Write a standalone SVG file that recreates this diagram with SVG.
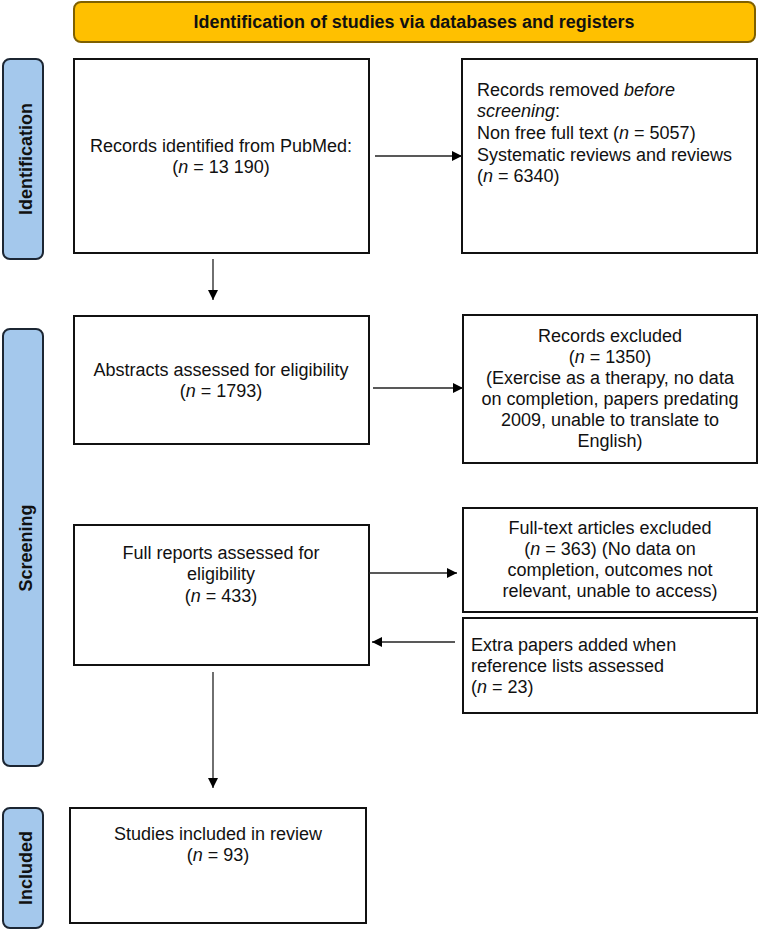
<svg xmlns="http://www.w3.org/2000/svg" width="760" height="929" viewBox="0 0 760 929">
<defs>
<marker id="ah" markerWidth="10" markerHeight="10" refX="10" refY="5" orient="auto" markerUnits="userSpaceOnUse">
<path d="M0,0 L10,5 L0,10 Z" fill="#000"/>
</marker>
<style>
.box{fill:#fff;stroke:#111;stroke-width:2}
.lab{fill:#A4C8EC;stroke:#1c2633;stroke-width:2}
.labt{font-family:"Liberation Sans",Arial,sans-serif;font-size:18px;font-weight:bold;fill:#111;text-anchor:middle}
.t{font-family:"Liberation Sans",Arial,sans-serif;font-size:18px;fill:#111}
.c{text-anchor:middle}
.conn{stroke:#222;stroke-width:1.3;fill:none}
</style>
</defs>
<rect width="760" height="929" fill="#fff"/>

<g id="banner">
<rect x="74" y="2" width="681" height="40" rx="7" fill="#FFC000" stroke="#7F6000" stroke-width="2"/>
<text x="414" y="28" class="labt" textLength="441" lengthAdjust="spacingAndGlyphs">Identification of studies via databases and registers</text>
</g>

<g id="label-identification">
<rect x="3" y="59" width="40" height="200" rx="7" class="lab"/>
<text transform="translate(32,159) rotate(-90)" class="labt">Identification</text>
</g>
<g id="label-screening">
<rect x="3" y="329" width="40" height="437" rx="7" class="lab"/>
<text transform="translate(32,548) rotate(-90)" class="labt">Screening</text>
</g>
<g id="label-included">
<rect x="3" y="808" width="40" height="120" rx="7" class="lab"/>
<text transform="translate(32,868) rotate(-90)" class="labt">Included</text>
</g>

<g id="records-identified">
<rect x="74" y="59" width="295" height="194" class="box"/>
<text x="221" y="152" class="t c">Records identified from PubMed:</text>
<text x="221" y="173" class="t c">(<tspan font-style="italic">n</tspan> = 13 190)</text>
</g>

<g id="records-removed">
<rect x="462" y="59" width="295" height="194" class="box"/>
<text x="477" y="96" class="t">Records removed <tspan font-style="italic">before</tspan></text>
<text x="477" y="117" class="t"><tspan font-style="italic">screening</tspan>:</text>
<text x="477" y="139" class="t">Non free full text (<tspan font-style="italic">n</tspan> = 5057)</text>
<text x="477" y="161" class="t">Systematic reviews and reviews</text>
<text x="477" y="182" class="t">(<tspan font-style="italic">n</tspan> = 6340)</text>
</g>

<g id="abstracts">
<rect x="74" y="316" width="295" height="128" class="box"/>
<text x="221" y="376" class="t c">Abstracts assessed for eligibility</text>
<text x="221" y="397" class="t c">(<tspan font-style="italic">n</tspan> = 1793)</text>
</g>

<g id="records-excluded">
<rect x="463" y="315" width="294" height="148" class="box"/>
<text x="610" y="342" class="t c">Records excluded</text>
<text x="610" y="363" class="t c">(<tspan font-style="italic">n</tspan> = 1350)</text>
<text x="610" y="384" class="t c">(Exercise as a therapy, no data</text>
<text x="610" y="405" class="t c">on completion, papers predating</text>
<text x="610" y="426" class="t c">2009, unable to translate to</text>
<text x="610" y="447" class="t c">English)</text>
</g>

<g id="full-reports">
<rect x="74" y="525" width="295" height="140" class="box"/>
<text x="221" y="559" class="t c">Full reports assessed for</text>
<text x="221" y="580" class="t c">eligibility</text>
<text x="221" y="602" class="t c">(<tspan font-style="italic">n</tspan> = 433)</text>
</g>

<g id="fulltext-excluded">
<rect x="463" y="508" width="294" height="104" class="box"/>
<text x="610" y="534" class="t c">Full-text articles excluded</text>
<text x="610" y="555" class="t c">(<tspan font-style="italic">n</tspan> = 363) (No data on</text>
<text x="610" y="576" class="t c">completion, outcomes not</text>
<text x="610" y="597" class="t c">relevant, unable to access)</text>
</g>

<g id="extra-papers">
<rect x="463" y="618" width="294" height="95" class="box"/>
<text x="471" y="651" class="t">Extra papers added when</text>
<text x="471" y="672" class="t">reference lists assessed</text>
<text x="471" y="693" class="t">(<tspan font-style="italic">n</tspan> = 23)</text>
</g>

<g id="studies-included">
<rect x="70" y="808" width="296" height="115" class="box"/>
<text x="218" y="840" class="t c">Studies included in review</text>
<text x="218" y="861" class="t c">(<tspan font-style="italic">n</tspan> = 93)</text>
</g>

<g id="connectors">
<line x1="375" y1="156" x2="462" y2="156" class="conn" marker-end="url(#ah)"/>
<line x1="213" y1="259" x2="213" y2="300" class="conn" marker-end="url(#ah)"/>
<line x1="373" y1="388" x2="463" y2="388" class="conn" marker-end="url(#ah)"/>
<line x1="369" y1="573" x2="457" y2="573" class="conn" marker-end="url(#ah)"/>
<line x1="455" y1="642" x2="372" y2="642" class="conn" marker-end="url(#ah)"/>
<line x1="213" y1="672" x2="213" y2="788" class="conn" marker-end="url(#ah)"/>
</g>
</svg>
